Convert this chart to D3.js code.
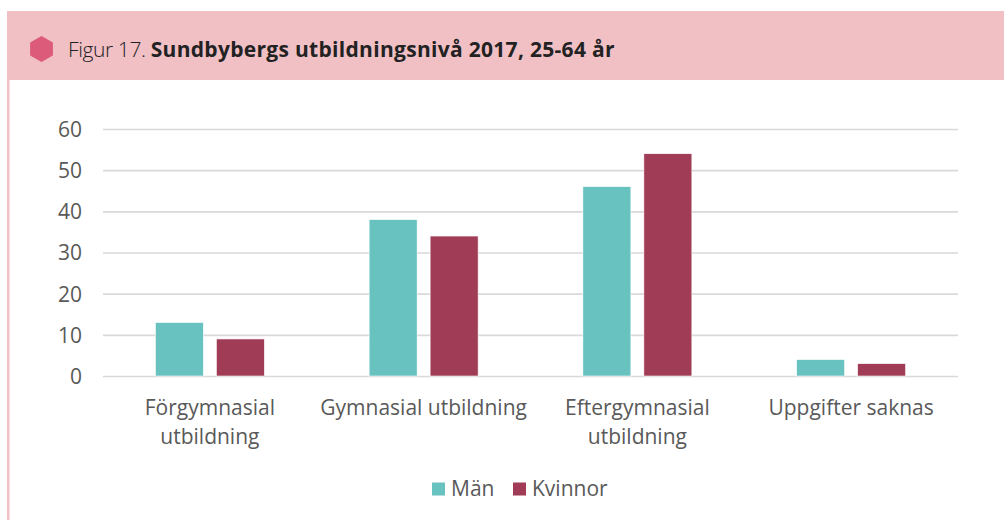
<!DOCTYPE html>
<html>
<head>
<meta charset="utf-8">
<script src="https://cdn.jsdelivr.net/npm/d3@7"></script>
<style>
  body { margin: 0; background: #fff; }
  svg { display: block; }
  .lab { font-family: "Open Sans", Lato, sans-serif; font-stretch: 95%; }
</style>
</head>
<body>
<div class="canvas"></div>
<script>
// data
const categories = [['Förgymnasial', 'utbildning'], ['Gymnasial utbildning'], ['Eftergymnasial', 'utbildning'], ['Uppgifter saknas']];
const seriesNames = ['Män', 'Kvinnor'];
const man = [13, 38, 46, 4];
const kvinnor = [9, 34, 54, 3];
const yTicks = [0, 10, 20, 30, 40, 50, 60];
const colors = ['#68c2bf', '#a03c56'];

const W = 1004, H = 520;
const font = '"Open Sans", Lato, sans-serif';

const svg = d3.select('.canvas').append('svg')
    .attr('width', W)
    .attr('height', H);

// header band + left border
svg.append('rect')
    .attr('x', 7).attr('y', 11)
    .attr('width', W - 7).attr('height', 69)
    .attr('fill', '#f1c0c5');
svg.append('rect')
    .attr('x', 7).attr('y', 80)
    .attr('width', 2.5).attr('height', H - 80)
    .attr('fill', '#f1c0c5');

// hexagon marker
const hex = d3.range(6).map(i => {
  const a = Math.PI / 3 * i - Math.PI / 2;
  return [41.5 + 12 * Math.cos(a), 49 + 12 * Math.sin(a)];
});
svg.append('path')
    .attr('d', d3.line().curve(d3.curveLinearClosed)(hex))
    .attr('fill', '#dc5b7b')
    .attr('stroke', '#dc5b7b')
    .attr('stroke-width', 2)
    .attr('stroke-linejoin', 'round');

const title = svg.append('text')
    .attr('x', 68).attr('y', 57)
    .attr('fill', '#222')
    .style('font-family', font)
    .style('font-size', '21px');
title.append('tspan').attr('font-weight', 300).attr('letter-spacing', '-0.4').text('Figur 17. ');
title.append('tspan').attr('font-weight', 700).attr('letter-spacing', '0.3').text('Sundbybergs utbildningsnivå 2017, 25-64 år');

// chart area
const plot = { left: 103, right: 958, top: 129, bottom: 376 };

const x = d3.scaleBand()
    .domain(d3.range(categories.length))
    .range([plot.left, plot.right]);

const x1 = d3.scaleBand()
    .domain(seriesNames)
    .range([x.bandwidth() / 2 - 54.5, x.bandwidth() / 2 + 54.5])
    .paddingInner(0.213);

const y = d3.scaleLinear()
    .domain([0, 60])
    .range([plot.bottom, plot.top]);

const yAxis = svg.append('g')
    .attr('transform', `translate(${plot.left},0)`)
    .call(d3.axisLeft(y).tickValues(yTicks).tickSize(-(plot.right - plot.left)).tickPadding(21));
yAxis.select('.domain').remove();
yAxis.selectAll('line').attr('stroke', '#d9d9d9').attr('stroke-width', 1.6);
yAxis.selectAll('text')
    .attr('class', 'lab')
    .attr('fill', '#595959')
    .attr('dy', '0.35em')
    .style('font-size', '21px')
    .style('font-stretch', '94%');

const rows = categories.map((c, i) => ({ i, values: [man[i], kvinnor[i]] }));

const groups = svg.selectAll('g.cat')
    .data(rows)
    .join('g')
    .attr('class', 'cat')
    .attr('transform', d => `translate(${x(d.i)},0)`);

groups.selectAll('rect')
    .data(d => d.values.map((v, k) => ({ v, k })))
    .join('rect')
    .attr('x', d => x1(seriesNames[d.k]))
    .attr('width', x1.bandwidth())
    .attr('y', d => y(d.v))
    .attr('height', d => y(0) - y(d.v))
    .attr('fill', d => colors[d.k])
    .attr('stroke', '#fff')
    .attr('stroke-width', 0.6);

// category labels
const xl = svg.append('g');
categories.forEach((lines, i) => {
  const t = xl.append('text')
      .attr('class', 'lab')
      .attr('x', x(i) + x.bandwidth() / 2)
      .attr('y', 415)
      .attr('text-anchor', 'middle')
      .attr('fill', '#595959')
      .style('font-size', '21px');
  lines.forEach((ln, j) => {
    t.append('tspan')
        .attr('x', x(i) + x.bandwidth() / 2)
        .attr('dy', j === 0 ? 0 : 29)
        .text(ln);
  });
});

// legend
const legendX = [432, 513];
const legend = svg.append('g');
seriesNames.forEach((name, k) => {
  legend.append('rect')
      .attr('x', legendX[k]).attr('y', 482.5)
      .attr('width', 13).attr('height', 13)
      .attr('fill', colors[k]);
  legend.append('text')
      .attr('class', 'lab')
      .attr('x', legendX[k] + 19).attr('y', 496)
      .attr('fill', '#595959')
      .style('font-size', '21px')
      .style('font-stretch', '97%')
      .text(name);
});
</script>
</body>
</html>
